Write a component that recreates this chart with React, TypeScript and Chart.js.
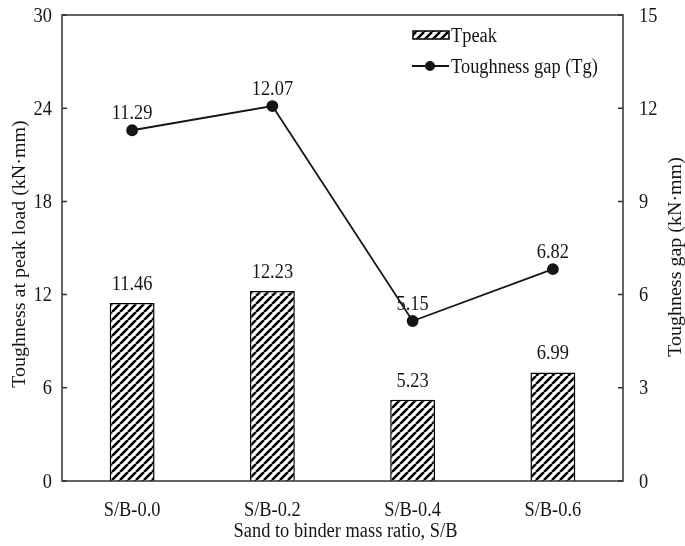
import React, { useEffect, useRef } from "react";
import { Chart, registerables } from "chart.js";
Chart.register(...registerables);

const categories = ["S/B-0.0", "S/B-0.2", "S/B-0.4", "S/B-0.6"];
const tpeakValues = [11.46, 12.23, 5.23, 6.99];
const gapValues = [11.29, 12.07, 5.15, 6.82];
const leftTicks = [0, 6, 12, 18, 24, 30];
const rightTicks = [0, 3, 6, 9, 12, 15];
const xTitle = "Sand to binder mass ratio, S/B";
const leftTitle = "Toughness at peak load (kN·mm)";
const rightTitle = "Toughness gap (kN·mm)";
const legendBar = "Tpeak";
const legendLine = "Toughness gap (Tg)";

const FONT = '"Liberation Serif", "Times New Roman", serif';
const FS = 20;
const SX = 0.92;
const INK = "#151515";

function makePattern(ctx: CanvasRenderingContext2D) {
  const c = document.createElement("canvas");
  const s = 8;
  c.width = s;
  c.height = s;
  const g = c.getContext("2d")!;
  g.fillStyle = "#fff";
  g.fillRect(0, 0, s, s);
  g.strokeStyle = "#000";
  g.lineWidth = 2.6;
  g.beginPath();
  for (let k = -1; k <= 1; k++) {
    g.moveTo(k * s, s);
    g.lineTo(k * s + s, 0);
  }
  g.stroke();
  return ctx.createPattern(c, "repeat")!;
}

function txt(
  ctx: CanvasRenderingContext2D,
  s: string,
  x: number,
  y: number,
  align: CanvasTextAlign,
  rot = 0
) {
  ctx.save();
  ctx.translate(x, y);
  if (rot) {
    ctx.rotate(rot);
    ctx.scale(1, SX);
  } else {
    ctx.scale(SX, 1);
  }
  ctx.font = `${FS}px ${FONT}`;
  ctx.fillStyle = INK;
  ctx.textAlign = align;
  ctx.textBaseline = "alphabetic";
  ctx.fillText(s, 0, 0);
  ctx.restore();
}

export default function App() {
  const ref = useRef<HTMLCanvasElement | null>(null);

  useEffect(() => {
    const canvas = ref.current!;
    const ctx0 = canvas.getContext("2d")!;
    const pattern = makePattern(ctx0);

    const overlay = {
      id: "overlay",
      afterDraw(chart: any) {
        const ctx: CanvasRenderingContext2D = chart.ctx;
        const a = chart.chartArea;
        const sx = chart.scales.x;
        const sy = chart.scales.y;
        const sy2 = chart.scales.y2;
        ctx.save();
        // frame
        ctx.strokeStyle = "#333";
        ctx.lineWidth = 1.5;
        ctx.strokeRect(a.left, a.top, a.right - a.left, a.bottom - a.top);
        // inward ticks
        ctx.beginPath();
        leftTicks.forEach((v) => {
          const y = sy.getPixelForValue(v);
          ctx.moveTo(a.left, y);
          ctx.lineTo(a.left + 5, y);
        });
        rightTicks.forEach((v) => {
          const y = sy2.getPixelForValue(v);
          ctx.moveTo(a.right - 5, y);
          ctx.lineTo(a.right, y);
        });
        ctx.stroke();
        ctx.restore();

        const cap = FS * 0.33;
        leftTicks.forEach((v) => {
          txt(ctx, String(v), a.left - 10, sy.getPixelForValue(v) + cap, "right");
        });
        rightTicks.forEach((v) => {
          txt(ctx, String(v), a.right + 16, sy2.getPixelForValue(v) + cap, "left");
        });
        categories.forEach((c, i) => {
          txt(ctx, c, sx.getPixelForValue(i), a.bottom + 35, "center");
        });
        txt(ctx, xTitle, (a.left + a.right) / 2 + 3, a.bottom + 56, "center");
        txt(ctx, leftTitle, 25, 254, "center", -Math.PI / 2);
        txt(ctx, rightTitle, 681, 257, "center", -Math.PI / 2);

        // data labels
        const m0 = chart.getDatasetMeta(0);
        m0.data.forEach((el: any, i: number) => {
          txt(ctx, tpeakValues[i].toFixed(2), el.x, el.y - 13, "center");
        });
        const m1 = chart.getDatasetMeta(1);
        m1.data.forEach((el: any, i: number) => {
          txt(ctx, gapValues[i].toFixed(2), el.x, el.y - 11, "center");
        });

        // legend
        ctx.save();
        ctx.fillStyle = pattern;
        ctx.fillRect(413, 31, 36, 8);
        ctx.strokeStyle = "#000";
        ctx.lineWidth = 1.5;
        ctx.strokeRect(413, 31, 36, 8);
        ctx.beginPath();
        ctx.moveTo(412, 66);
        ctx.lineTo(449, 66);
        ctx.strokeStyle = INK;
        ctx.lineWidth = 1.8;
        ctx.stroke();
        ctx.beginPath();
        ctx.arc(430, 66, 5, 0, Math.PI * 2);
        ctx.fillStyle = INK;
        ctx.fill();
        ctx.restore();
        txt(ctx, legendBar, 451, 42, "left");
        txt(ctx, legendLine, 451, 73, "left");
      },
    };

    const chart = new Chart(canvas, {
      type: "bar",
      data: {
        labels: categories,
        datasets: [
          {
            type: "bar",
            label: legendBar,
            data: tpeakValues,
            backgroundColor: pattern as any,
            borderColor: "#000",
            borderWidth: 1.5,
            barPercentage: 0.32,
            categoryPercentage: 1,
            yAxisID: "y",
            order: 2,
          },
          {
            type: "line",
            label: legendLine,
            data: gapValues,
            borderColor: INK,
            borderWidth: 1.8,
            pointRadius: 5,
            pointBackgroundColor: INK,
            pointBorderColor: INK,
            tension: 0,
            yAxisID: "y2",
            order: 1,
          } as any,
        ],
      },
      options: {
        animation: false,
        responsive: true,
        maintainAspectRatio: false,
        layout: { padding: { top: 15, left: 0, right: 0, bottom: 0 } },
        plugins: { legend: { display: false }, tooltip: { enabled: false } },
        scales: {
          x: {
            type: "category",
            offset: true,
            grid: { display: false, drawTicks: false },
            border: { display: false },
            ticks: { display: false },
            afterFit: (s: any) => {
              s.height = 65;
            },
          },
          y: {
            position: "left",
            min: 0,
            max: 30,
            ticks: { display: false, stepSize: 6 },
            grid: { display: false, drawTicks: false },
            border: { display: false },
            afterFit: (s: any) => {
              s.width = 62;
            },
          },
          y2: {
            position: "right",
            min: 0,
            max: 15,
            ticks: { display: false, stepSize: 3 },
            grid: { display: false, drawTicks: false },
            border: { display: false },
            afterFit: (s: any) => {
              s.width = 62;
            },
          },
        } as any,
      },
      plugins: [overlay],
    });
    return () => chart.destroy();
  }, []);

  return (
    <div
      style={{
        position: "fixed",
        left: 0,
        top: 0,
        width: 685,
        height: 546,
        background: "#fff",
      }}
    >
      <canvas ref={ref} />
    </div>
  );
}
